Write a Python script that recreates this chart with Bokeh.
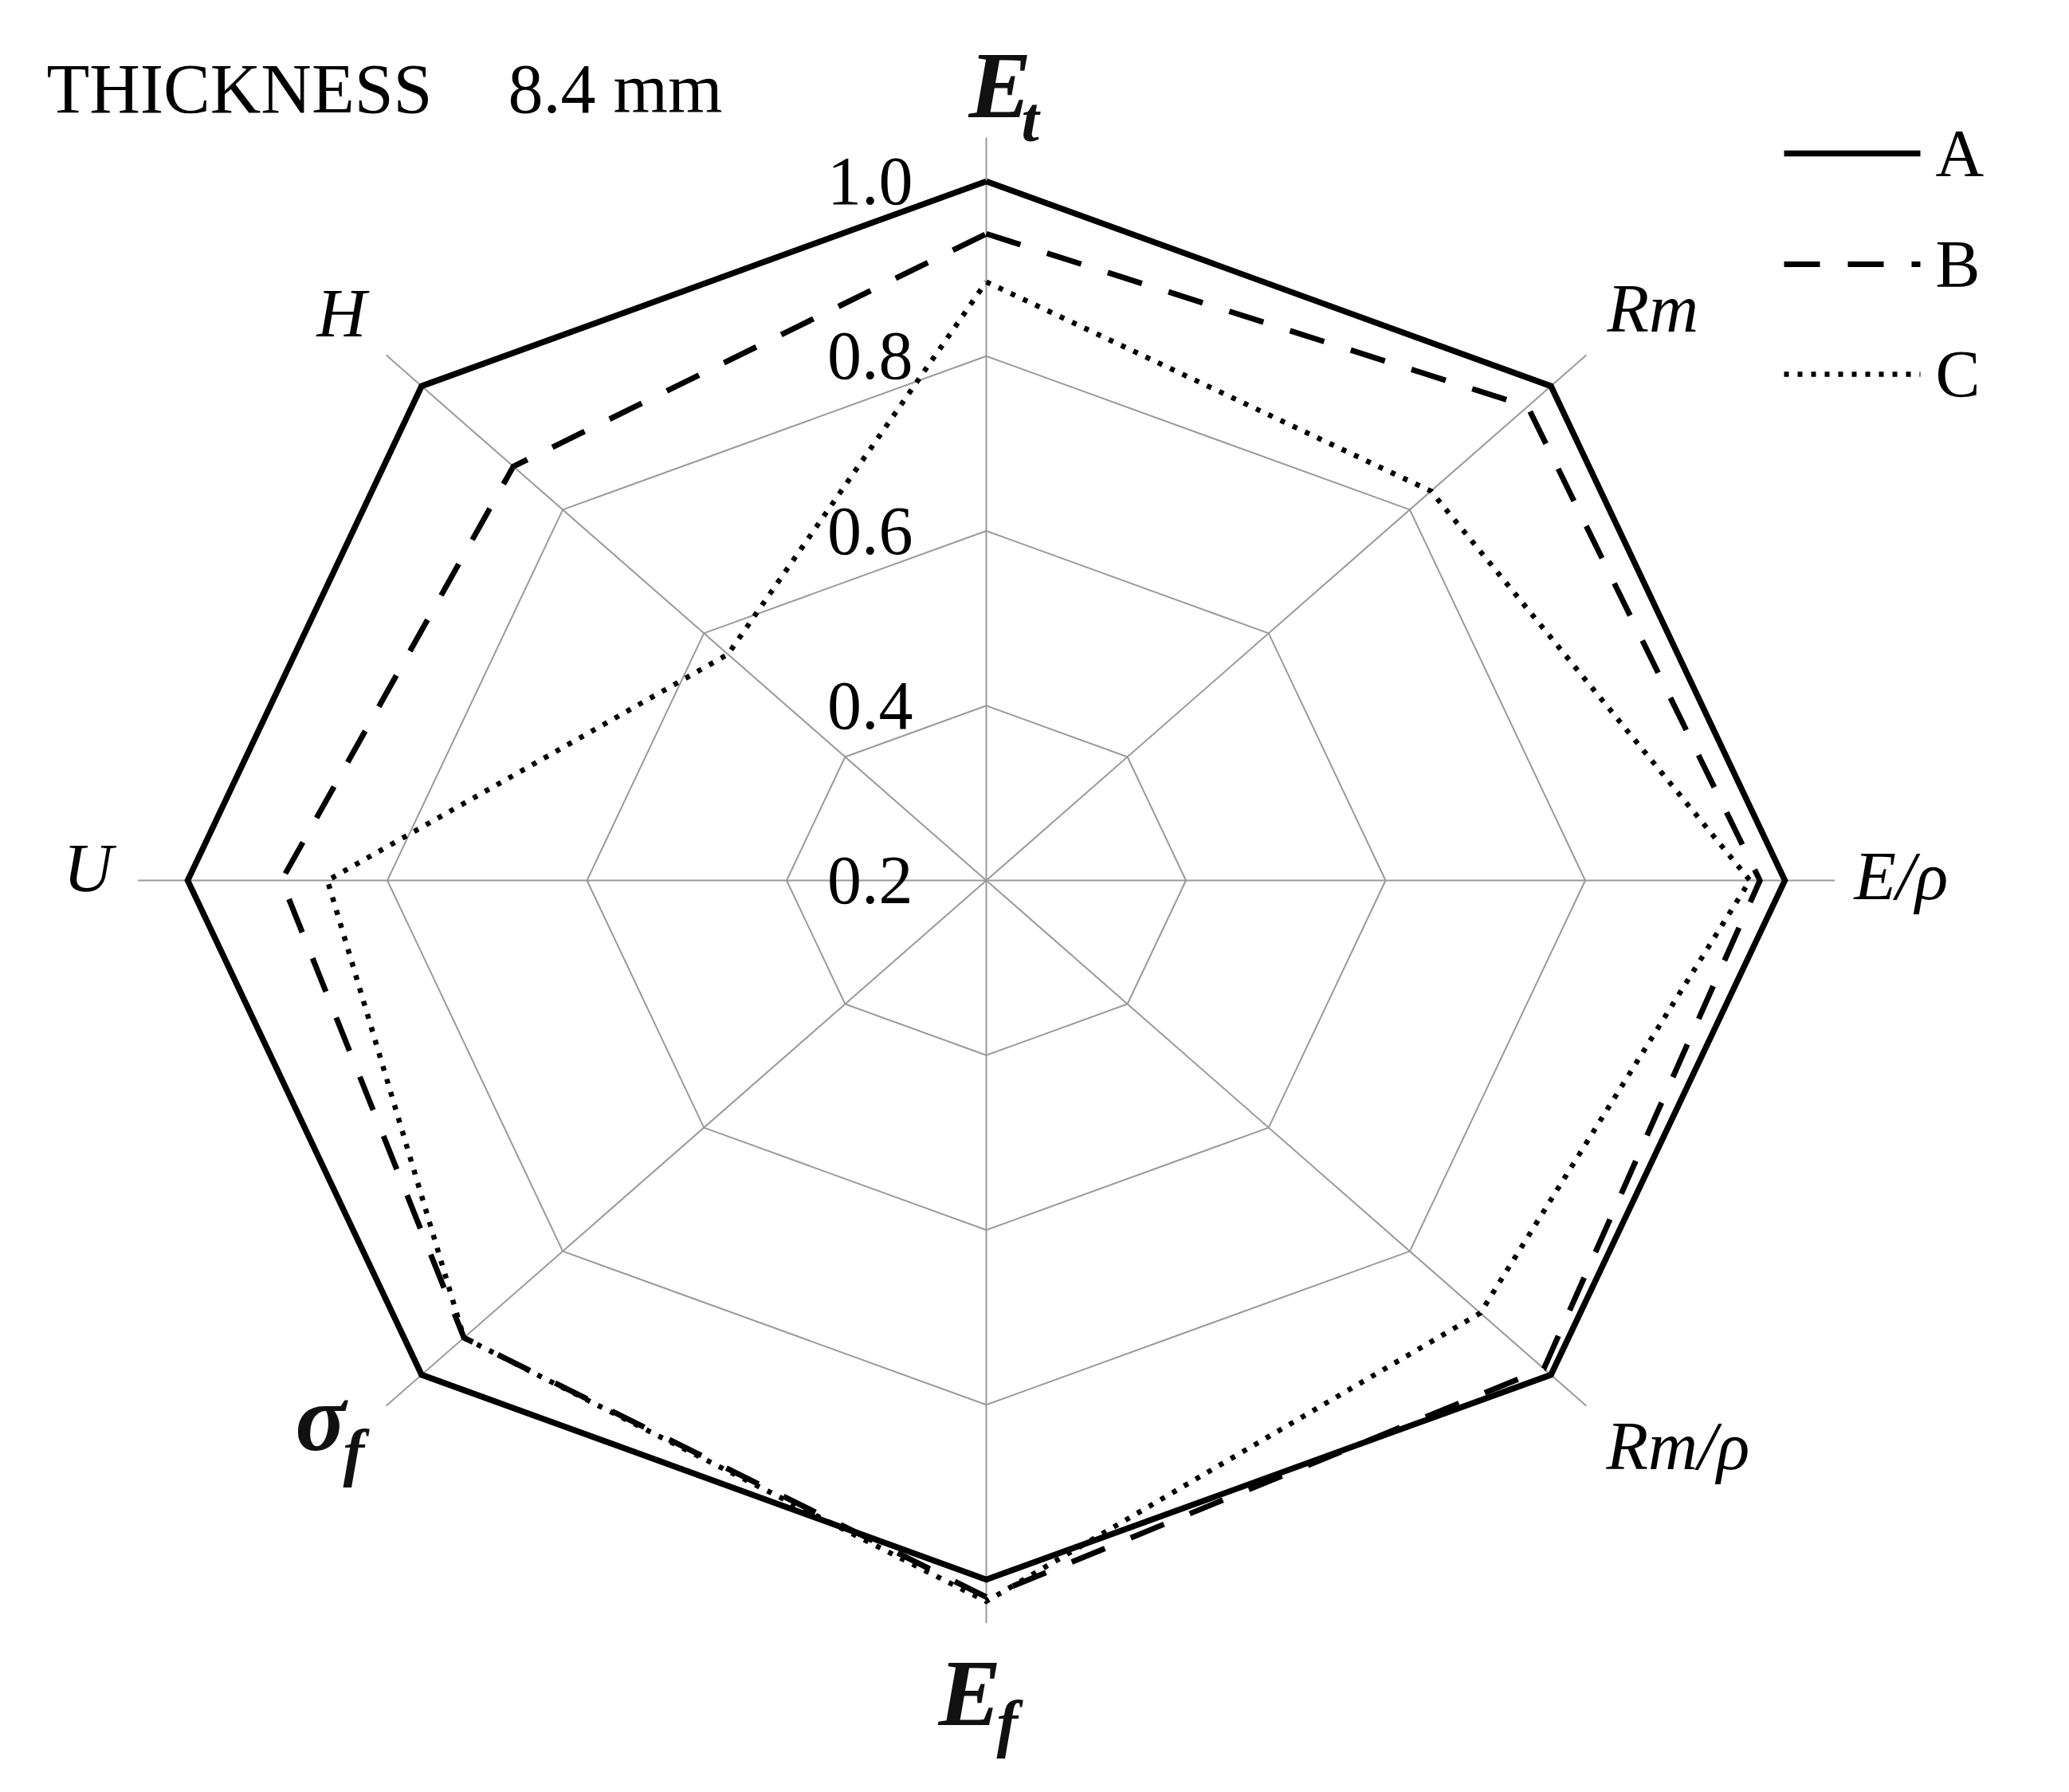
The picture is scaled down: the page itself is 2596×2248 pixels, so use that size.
import numpy as np
from bokeh.plotting import figure
from bokeh.models import Range1d
from bokeh.core.properties import value
from bokeh.embed import file_html
from bokeh.resources import INLINE

# ---------------- data ----------------
categories = ["Et", "Rm", "E/ρ", "Rm/ρ", "Ef", "σf", "U", "H"]
series_names = ["A", "B", "C"]
series_A = [1.00, 1.00, 1.00, 1.00, 1.00, 1.00, 1.00, 1.00]
series_B = [0.94, 0.967, 0.975, 0.99, 1.02, 0.94, 0.906, 0.87]
series_C = [0.885, 0.83, 0.965, 0.90, 1.025, 0.94, 0.86, 0.566]
ring_values = [0.4, 0.6, 0.8, 1.0]
tick_values = [1.0, 0.8, 0.6, 0.4, 0.2]
tick_labels = ["1.0", "0.8", "0.6", "0.4", "0.2"]
r_min, r_max = 0.2, 1.0
spoke_end = 1.05
title_left = "THICKNESS"
title_right = "8.4 mm"

# ---------------- layout ----------------
W, H = 2580, 2232
CX, CY = 1237, 1104          # centre of the web in figure pixels (from top-left)
RX, RY = 1002, 877           # pixel radius of value 1.0 horizontally / vertically

p = figure(width=W, height=H,
           x_range=Range1d(-CX / RX, (W - CX) / RX),
           y_range=Range1d(-(H - CY) / RY, CY / RY),
           x_axis_type=None, y_axis_type=None,
           output_backend="svg", toolbar_location=None, min_border=0)
p.outline_line_color = None
p.background_fill_color = "white"
p.border_fill_color = "white"

n = len(categories)
theta = np.deg2rad(90 - 45 * np.arange(n))


def norm(v):
    return (np.asarray(v, dtype=float) - r_min) / (r_max - r_min)


def polar(vals):
    r = norm(vals)
    xs = list(r * np.cos(theta)) + [float(r[0] * np.cos(theta[0]))]
    ys = list(r * np.sin(theta)) + [float(r[0] * np.sin(theta[0]))]
    return xs, ys


def P(fx, fy):
    """pixel position (from top-left) -> data coords"""
    return (fx - CX) / RX, (CY - fy) / RY


grid_col = "#9a9a9a"
# rings
ring_xs, ring_ys = [], []
for rv in ring_values:
    xs, ys = polar([rv] * n)
    ring_xs.append(xs)
    ring_ys.append(ys)
p.multi_line(ring_xs, ring_ys, line_color=grid_col, line_width=2)
# spokes
re = float(norm(spoke_end))
p.segment(x0=[0] * n, y0=[0] * n, x1=list(re * np.cos(theta)), y1=list(re * np.sin(theta)),
          line_color=grid_col, line_width=2)

# series
styles = {
    "A": dict(line_width=7.5, line_dash="solid"),
    "B": dict(line_width=7, line_dash="45 35"),
    "C": dict(line_width=6.5, line_dash="6 11"),
}
for name, vals in zip(series_names, [series_A, series_B, series_C]):
    xs, ys = polar(vals)
    p.line(xs, ys, line_color="black", line_join="miter", **styles[name])

serif = value("Liberation Serif")


def label(t, fx, base, size, style="normal", color="black"):
    # baseline position -> middle-anchored text position
    x, y = P(fx, base - 0.38 * size)
    p.text(x=[x], y=[y], text=[t], text_align="left", text_baseline="middle",
           text_font=serif, text_font_style=style, text_font_size=f"{size}px",
           text_color=color)


# ring tick labels
p.text(x=[0] * len(tick_values), y=list(norm(tick_values)), text=tick_labels,
       x_offset=-92, text_align="right", text_baseline="middle",
       text_font=serif, text_font_size="86px", text_color="black")

# axis labels (italic)
small_labels = [("Rm", 2016, 419), ("E/ρ", 2326, 1131), ("Rm/ρ", 2015, 1846),
                ("U", 79, 1121), ("H", 397, 425)]
for t, fx, base in small_labels:
    label(t, fx, base, 86, "italic")

# big labels with subscripts
big_labels = [("E", 1215, 152, "t", 1281, 180),
              ("E", 1177, 2169, "f", 1250, 2192),
              ("σ", 370, 1824, "f", 430, 1852)]
for main, fx, base, sub, sx, sbase in big_labels:
    label(main, fx, base, 118, "bold italic", "#111111")
    label(sub, sx, sbase, 80, "bold italic", "#111111")

# title
label(title_left, 58, 144, 88)
label(title_right, 637, 144, 88)

# legend
leg_y = [192, 331, 469]
for name, fy in zip(series_names, leg_y):
    x0, y0 = P(2238, fy)
    x1, _ = P(2409, fy)
    p.line([x0, x1], [y0, y0], line_color="black", **styles[name])
    lx, ly = P(2428, fy)
    p.text(x=[lx], y=[ly], text=[name], text_align="left", text_baseline="middle",
           text_font=serif, text_font_size="84px", text_color="black")

open("out.html", "w").write(file_html(p, INLINE))
